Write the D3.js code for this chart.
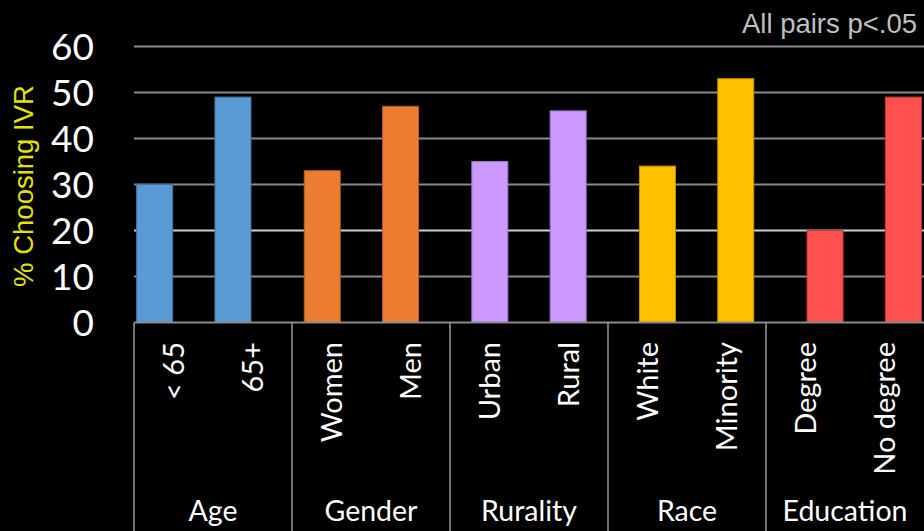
<!DOCTYPE html>
<html>
<head>
<meta charset="utf-8">
<script src="https://cdn.jsdelivr.net/npm/d3@7"></script>
<style>
  html, body { margin: 0; padding: 0; background: #000; }
  svg { display: block; }
</style>
</head>
<body>
<svg id="chart" width="924" height="531"></svg>
<script>
// Share of respondents choosing IVR, by demographic group
const groups = ["Age", "Gender", "Rurality", "Race", "Education"];
const subgroups = [
  ["< 65", "65+"],
  ["Women", "Men"],
  ["Urban", "Rural"],
  ["White", "Minority"],
  ["Degree", "No degree"]
];
const values = [
  [30, 49],
  [33, 47],
  [35, 46],
  [34, 53],
  [20, 49]
];
const groupColors = ["#5b9bd5", "#ed7d31", "#cc99ff", "#ffc000", "#ff5050"];
const yTicks = [0, 10, 20, 30, 40, 50, 60];
const note = "All pairs p<.05";
const yTitle = "% Choosing IVR";

const W = 924, H = 531;
const svg = d3.select("#chart");

const y = d3.scaleLinear().domain([0, 60]).range([322.5, 46.5]);

// category axis layout (gridlines, separators, labels)
const xAxisGroup = d3.scaleBand().domain(groups).range([134, 924]);
const xAxisSub = d3.scaleBand().domain([0, 1]).range([0, xAxisGroup.bandwidth()]);

// bar layout
const xBarGroup = d3.scaleBand().domain(groups).range([110, 948]);
const xBarSub = d3.scaleBand().domain([0, 1]).range([0, xBarGroup.bandwidth()])
  .paddingInner(0.54).paddingOuter(0.34);

// horizontal gridlines
svg.append("g").selectAll("line")
  .data(yTicks.filter(d => d > 0))
  .join("line")
  .attr("x1", 134).attr("x2", W)
  .attr("y1", d => y(d)).attr("y2", d => y(d))
  .attr("stroke", d => d === 20 ? "#d0d0d0" : "#8a8a8a")
  .attr("stroke-width", 2);

// y tick labels
svg.append("g").selectAll("text")
  .data(yTicks)
  .join("text")
  .attr("x", 94)
  .attr("y", d => y(d))
  .attr("dy", "0.36em")
  .attr("text-anchor", "end")
  .attr("fill", "#ffffff")
  .attr("font-family", "Lato, 'Open Sans', sans-serif")
  .attr("font-size", 37)
  .text(d => d);

// y axis title
svg.append("text")
  .attr("transform", `translate(33, ${186}) rotate(-90)`)
  .attr("text-anchor", "middle")
  .attr("fill", "#e3e300")
  .attr("font-family", "'Liberation Sans', Arial, sans-serif")
  .attr("font-size", 27.5)
  .text(yTitle);

// note
svg.append("text")
  .attr("x", 917).attr("y", 33)
  .attr("text-anchor", "end")
  .attr("fill", "#bfbfbf")
  .attr("font-family", "'Liberation Sans', Arial, sans-serif")
  .attr("font-size", 27.5)
  .text(note);

// bars
const flat = [];
groups.forEach((g, gi) => {
  subgroups[gi].forEach((s, si) => {
    flat.push({ group: g, gi, si, label: s, value: values[gi][si] });
  });
});

svg.append("g").selectAll("rect")
  .data(flat)
  .join("rect")
  .attr("x", d => xBarGroup(d.group) + xBarSub(d.si))
  .attr("width", xBarSub.bandwidth())
  .attr("y", d => y(d.value))
  .attr("height", d => y(0) - y(d.value))
  .attr("fill", d => groupColors[d.gi])
  .attr("stroke", d => d3.color(groupColors[d.gi]).darker(0.8))
  .attr("stroke-width", 1);

// category axis baseline
svg.append("line")
  .attr("x1", 134).attr("x2", W)
  .attr("y1", y(0)).attr("y2", y(0))
  .attr("stroke", "#8a8a8a").attr("stroke-width", 2);

// group separators
svg.append("g").selectAll("line")
  .data(groups)
  .join("line")
  .attr("x1", d => xAxisGroup(d)).attr("x2", d => xAxisGroup(d))
  .attr("y1", y(0)).attr("y2", H)
  .attr("stroke", "#9a9a9a").attr("stroke-width", 1.5);

// subgroup labels
svg.append("g").selectAll("text")
  .data(flat)
  .join("text")
  .attr("transform", d => {
    const cx = xAxisGroup(d.group) + xAxisSub(d.si) + xAxisSub.bandwidth() / 2;
    return `translate(${cx}, 342) rotate(-90)`;
  })
  .attr("dy", "0.35em")
  .attr("text-anchor", "end")
  .attr("fill", "#ffffff")
  .attr("font-family", "Lato, 'Open Sans', sans-serif")
  .attr("font-size", 29)
  .text(d => d.label);

// group labels
svg.append("g").selectAll("text")
  .data(groups)
  .join("text")
  .attr("x", d => xAxisGroup(d) + xAxisGroup.bandwidth() / 2)
  .attr("y", 521)
  .attr("text-anchor", "middle")
  .attr("fill", "#ffffff")
  .attr("font-family", "Lato, 'Open Sans', sans-serif")
  .attr("font-size", 28.5)
  .text(d => d);
</script>
</body>
</html>
